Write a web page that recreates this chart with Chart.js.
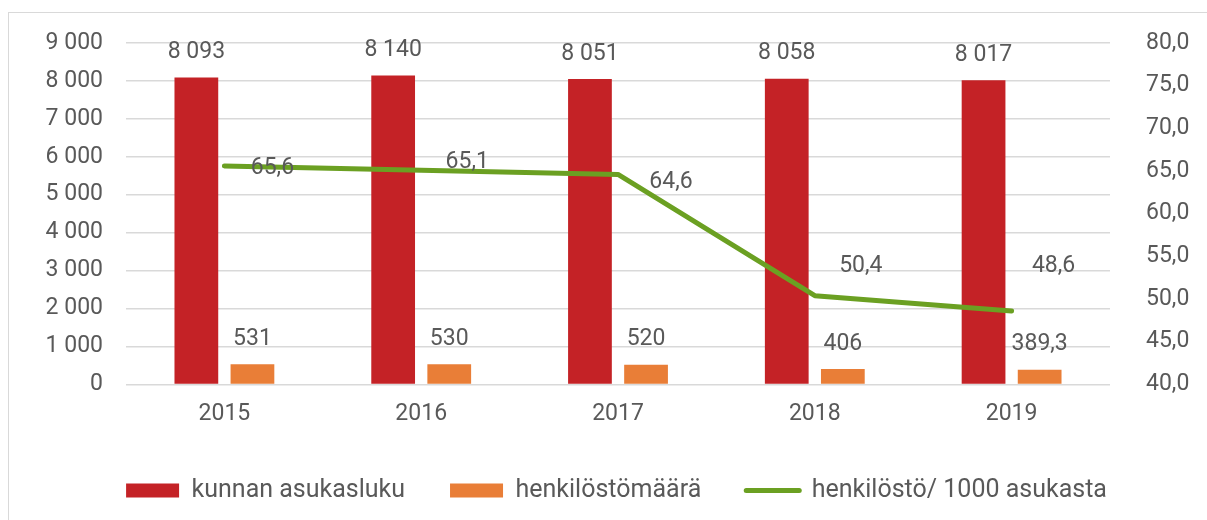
<!DOCTYPE html>
<html>
<head>
<meta charset="utf-8">
<script src="https://cdn.jsdelivr.net/npm/chart.js@4.4.1/dist/chart.umd.min.js"></script>
<style>
  html, body { margin: 0; padding: 0; background: #fff; }
  #frame { position: absolute; left: 8px; top: 12px; width: 1220px; height: 530px; border: 1px solid #d9d9d9; box-sizing: border-box; }
  #wrap { position: absolute; left: 0; top: 0; width: 1207px; height: 520px; }
</style>
</head>
<body>
<div id="frame"></div>
<div id="wrap"><canvas id="chart" width="1207" height="520"></canvas></div>
<script>
// data
const years = ['2015', '2016', '2017', '2018', '2019'];
const asukasluku = [8093, 8140, 8051, 8058, 8017];
const henkilostomaara = [531, 530, 520, 406, 389.3];
const per1000 = [65.6, 65.1, 64.6, 50.4, 48.6];

// label nudges for the line values (px), as in the original
const lineLabelDx = [48, 46, 53, 46, 42];
const lineLabelDy = [2, -8, 8, -29, -45];

const textColor = '#595959';
const fontFamily = 'Roboto, "Liberation Sans", sans-serif';

function fmtValue(v) {
    if (Number.isInteger(v)) return String(v).replace(/\B(?=(\d{3})+(?!\d))/g, ' ');
    return String(v).replace('.', ',');
}

// data labels
const valueLabels = {
    id: 'valueLabels',
    afterLayout(chart) {
        // legend sits a little right of centre in the original
        chart.legend.left += 13;
        chart.legend.right += 13;
    },
    afterDatasetsDraw(chart) {
        const ctx = chart.ctx;
        ctx.save();
        ctx.fillStyle = textColor;
        ctx.font = '23px ' + fontFamily;
        ctx.textAlign = 'center';
        ctx.textBaseline = 'middle';
        chart.data.datasets.forEach((ds, di) => {
            const meta = chart.getDatasetMeta(di);
            meta.data.forEach((el, i) => {
                const v = ds.data[i];
                let txt = ds.type === 'line' ? v.toFixed(1).replace('.', ',') : fmtValue(v);
                if (ds.type === 'line') {
                    ctx.fillText(txt, el.x + lineLabelDx[i], el.y + lineLabelDy[i]);
                } else {
                    ctx.fillText(txt, el.x, el.y - 25);
                }
            });
        });
        ctx.restore();
    }
};

const ctx = document.getElementById('chart').getContext('2d');
new Chart(ctx, {
    data: {
        labels: years,
        datasets: [
            { type: 'line', label: 'henkilöstö/ 1000 asukasta', data: per1000, yAxisID: 'y1',
              borderColor: '#6BA022', backgroundColor: '#6BA022', borderWidth: 5,
              borderCapStyle: 'round', borderJoinStyle: 'round', pointRadius: 0, tension: 0, order: 0 },
            { type: 'bar', label: 'kunnan asukasluku', data: asukasluku, yAxisID: 'y',
              backgroundColor: '#C42226', categoryPercentage: 0.57, barPercentage: 0.78, order: 1 },
            { type: 'bar', label: 'henkilöstömäärä', data: henkilostomaara, yAxisID: 'y',
              backgroundColor: '#E97E37', categoryPercentage: 0.57, barPercentage: 0.78, order: 1 }
        ]
    },
    options: {
        responsive: false,
        animation: false,
        layout: { padding: { top: 43, left: 0, right: 0, bottom: 7 } },
        plugins: {
            tooltip: { enabled: false },
            legend: {
                position: 'bottom',
                labels: {
                    color: textColor,
                    font: { family: fontFamily, size: 25 },
                    usePointStyle: true,
                    pointStyleWidth: 53,
                    boxHeight: 14,
                    padding: 45,
                    sort: (a, b) => [1, 2, 0].indexOf(a.datasetIndex) - [1, 2, 0].indexOf(b.datasetIndex),
                    generateLabels(chart) {
                        const items = Chart.defaults.plugins.legend.labels.generateLabels(chart);
                        items.forEach(it => {
                            const ds = chart.data.datasets[it.datasetIndex];
                            if (ds.type === 'line') {
                                it.pointStyle = 'line';
                                it.lineWidth = 5;
                                it.strokeStyle = ds.borderColor;
                                it.lineCap = 'round';
                            } else {
                                it.pointStyle = 'rect';
                                it.lineWidth = 0;
                                it.fillStyle = ds.backgroundColor;
                            }
                        });
                        return items;
                    }
                }
            }
        },
        scales: {
            x: {
                grid: { display: false },
                border: { display: false },
                ticks: { color: textColor, font: { family: fontFamily, size: 23 }, padding: 8 },
                afterFit(s) { s.height -= 3; }
            },
            y: {
                position: 'left',
                min: 0, max: 9000,
                ticks: { stepSize: 1000, color: textColor, font: { family: fontFamily, size: 23 }, padding: 23,
                         callback: v => fmtValue(v) },
                grid: { color: '#d9d9d9', lineWidth: 1.5, drawTicks: false },
                border: { display: false },
                afterFit(s) { s.width = 126; }
            },
            y1: {
                position: 'right',
                min: 40, max: 80,
                ticks: { stepSize: 5, color: textColor, font: { family: fontFamily, size: 23 }, padding: 36,
                         callback: v => v.toFixed(1).replace('.', ',') },
                grid: { display: false, drawTicks: false },
                border: { display: false },
                afterFit(s) { s.width = 97; s.paddingTop = 14; s.paddingBottom = 14; }
            }
        }
    },
    plugins: [valueLabels]
});
</script>
</body>
</html>
